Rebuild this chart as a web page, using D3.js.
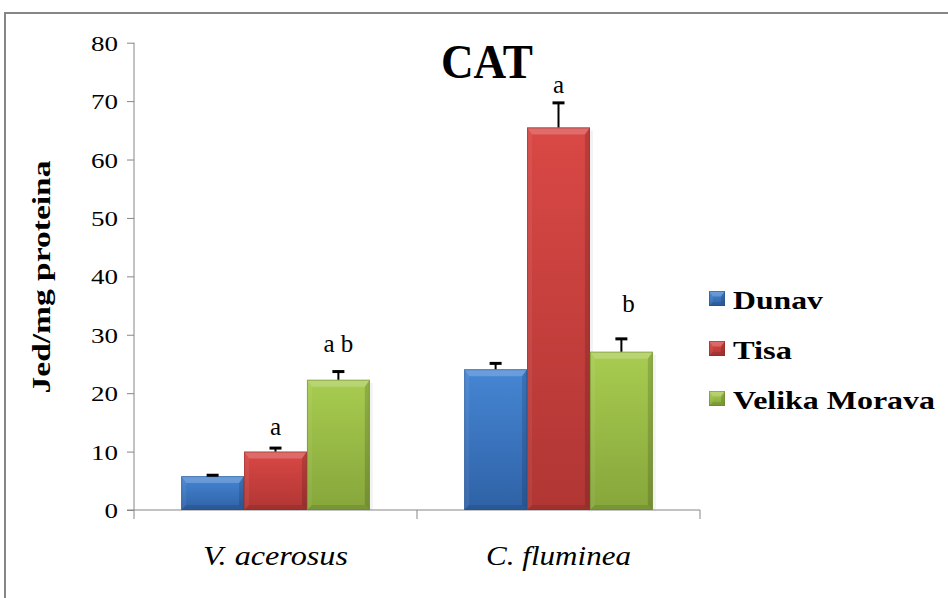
<!DOCTYPE html>
<html>
<head>
<meta charset="utf-8">
<script src="https://cdn.jsdelivr.net/npm/d3@7"></script>
<style>
  body { margin: 0; background: #fff; }
  text { font-family: "Liberation Serif", "Times New Roman", serif; }
</style>
</head>
<body>
<div class="chart"></div>
<script>
var svgWidth = 948;
var svgHeight = 598;

// data
var species = ["V. acerosus", "C. fluminea"];
var rivers = ["Dunav", "Tisa", "Velika Morava"];
var dunav = [5.8, 24.1];
var tisa = [10.0, 65.5];
var morava = [22.3, 27.1];
var dunavErr = [0.15, 1.0];
var tisaErr = [0.6, 4.2];
var moravaErr = [1.4, 2.2];
var letters = [["", "a", "a b"], ["", "a", "b"]];
// height (in axis units) of the baseline of each letter
var letterAt = [[0, 12.8, 27.0], [0, 71.4, 33.9]];
var yTicks = [0, 10, 20, 30, 40, 50, 60, 70, 80];

var colors = {
  "Dunav": ["#4686d4", "#2f62a6", "#24508a"],
  "Tisa": ["#d94845", "#b03634", "#8c2a28"],
  "Velika Morava": ["#a8cc50", "#86a63b", "#6a842c"]
};

var margin = { top: 42.7, right: 248, bottom: 88, left: 134 };
var width = 700 - margin.left;
var height = 510 - margin.top;

var svg = d3.select(".chart")
  .append("svg")
  .attr("width", svgWidth)
  .attr("height", svgHeight);

// outer frame
svg.append("rect")
  .attr("x", 5).attr("y", 13)
  .attr("width", 960).attr("height", 620)
  .attr("fill", "none")
  .attr("stroke", "#868686")
  .attr("stroke-width", 2);

var defs = svg.append("defs");
rivers.forEach(function (r, i) {
  var g = defs.append("linearGradient")
    .attr("id", "grad" + i)
    .attr("x1", 0).attr("y1", 0).attr("x2", 0).attr("y2", 1);
  g.append("stop").attr("offset", "0%").attr("stop-color", colors[r][0]);
  g.append("stop").attr("offset", "100%").attr("stop-color", colors[r][1]);
});

var chartGroup = svg.append("g")
  .attr("transform", `translate(${margin.left}, ${margin.top})`);

var x0 = d3.scaleBand()
  .domain(species)
  .range([0, width])
  .paddingInner(0)
  .paddingOuter(0);

var x1 = d3.scaleBand()
  .domain(rivers)
  .range([0, x0.bandwidth()])
  .paddingInner(0)
  .paddingOuter(0.75);

var y = d3.scaleLinear()
  .domain([0, 80])
  .range([height, 0]);

// axes
var leftAxis = d3.axisLeft(y).tickValues(yTicks).tickSize(7).tickPadding(9);
var yAxis = chartGroup.append("g").call(leftAxis);
yAxis.select(".domain").attr("stroke", "#868686").attr("d", `M0,0V${height}`);
yAxis.selectAll(".tick line").attr("stroke", "#868686");
yAxis.selectAll(".tick text")
  .attr("fill", "#000")
  .style("font-size", "22px")
  .attr("dy", "0.34em")
  .attr("textLength", d => String(d).length * 13.5)
  .attr("lengthAdjust", "spacingAndGlyphs");

var bottomAxis = d3.axisBottom(x0).tickSize(0).tickFormat("");
var xAxis = chartGroup.append("g")
  .attr("transform", `translate(0, ${height})`)
  .call(bottomAxis);
xAxis.select(".domain").attr("stroke", "#868686").attr("d", `M-7,0H${width}`);
xAxis.selectAll(".tick").remove();
// category separators ticks
[0, x0.bandwidth(), width].forEach(function (t) {
  xAxis.append("line")
    .attr("x1", t).attr("x2", t)
    .attr("y1", 0).attr("y2", 9)
    .attr("stroke", "#868686");
});

// category labels
chartGroup.selectAll(".cat")
  .data(species)
  .enter()
  .append("text")
  .attr("class", "cat")
  .attr("x", d => x0(d) + x0.bandwidth() / 2)
  .attr("y", height + 55)
  .attr("text-anchor", "middle")
  .style("font-size", "27px")
  .style("font-style", "italic")
  .attr("textLength", 145)
  .attr("lengthAdjust", "spacingAndGlyphs")
  .text(d => d);

// rows
var rows = species.map(function (s, i) {
  return [
    { sp: s, river: "Dunav", idx: 0, v: dunav[i], e: dunavErr[i], lab: letters[i][0], ly: letterAt[i][0] },
    { sp: s, river: "Tisa", idx: 1, v: tisa[i], e: tisaErr[i], lab: letters[i][1], ly: letterAt[i][1] },
    { sp: s, river: "Velika Morava", idx: 2, v: morava[i], e: moravaErr[i], lab: letters[i][2], ly: letterAt[i][2] }
  ];
});
var data = [].concat.apply([], rows);

function bevelBar(g, bx, by, bw, bh, river, idx, b) {
  var c = colors[river];
  g.append("rect")
    .attr("x", bx).attr("y", by).attr("width", bw).attr("height", bh)
    .attr("fill", `url(#grad${idx})`);
  var bt = Math.min(b * 1.4, bh / 2, bw / 2);
  b = Math.min(b, bh / 2, bw / 2);
  // top bevel
  g.append("path")
    .attr("d", `M${bx},${by}H${bx + bw}L${bx + bw - b},${by + bt}H${bx + b}Z`)
    .attr("fill", "#fff").attr("opacity", 0.2);
  // left bevel
  g.append("path")
    .attr("d", `M${bx},${by}L${bx + b},${by + bt}V${by + bh - b}L${bx},${by + bh}Z`)
    .attr("fill", "#fff").attr("opacity", 0.06);
  // right bevel
  g.append("path")
    .attr("d", `M${bx + bw},${by}L${bx + bw - b},${by + bt}V${by + bh - b}L${bx + bw},${by + bh}Z`)
    .attr("fill", "#000").attr("opacity", 0.14);
  // bottom bevel
  g.append("path")
    .attr("d", `M${bx},${by + bh}L${bx + b},${by + bh - b}H${bx + bw - b}L${bx + bw},${by + bh}Z`)
    .attr("fill", "#000").attr("opacity", 0.1);
  g.append("rect")
    .attr("x", bx + 0.5).attr("y", by + 0.5).attr("width", bw - 1).attr("height", bh - 1)
    .attr("fill", "none").attr("stroke", c[2]).attr("stroke-opacity", 0.5);
}

// bars
data.forEach(function (d) {
  var g = chartGroup.append("g");
  var bx = x0(d.sp) + x1(d.river);
  var bw = x1.bandwidth();
  // soft shadow to the right
  g.append("rect")
    .attr("x", bx + bw).attr("y", y(d.v) + 3)
    .attr("width", 3).attr("height", height - y(d.v) - 3)
    .attr("fill", "#000").attr("opacity", 0.05);
  bevelBar(g, bx, y(d.v), bw, height - y(d.v), d.river, d.idx, 5);
});

// error bars
var errGroup = chartGroup.selectAll(".err")
  .data(data)
  .enter()
  .append("g")
  .attr("class", "err");
errGroup.append("line")
  .attr("x1", d => x0(d.sp) + x1(d.river) + x1.bandwidth() / 2)
  .attr("x2", d => x0(d.sp) + x1(d.river) + x1.bandwidth() / 2)
  .attr("y1", d => y(d.v))
  .attr("y2", d => y(d.v + d.e))
  .attr("stroke", "#000")
  .attr("stroke-width", 2);
errGroup.append("line")
  .attr("x1", d => x0(d.sp) + x1(d.river) + x1.bandwidth() / 2 - 6)
  .attr("x2", d => x0(d.sp) + x1(d.river) + x1.bandwidth() / 2 + 6)
  .attr("y1", d => y(d.v + d.e))
  .attr("y2", d => y(d.v + d.e))
  .attr("stroke", "#000")
  .attr("stroke-width", 3);

// significance letters
chartGroup.selectAll(".lab")
  .data(data.filter(d => d.lab !== ""))
  .enter()
  .append("text")
  .attr("class", "lab")
  .attr("x", d => x0(d.sp) + x1(d.river) + x1.bandwidth() / 2 + (d.lab === "b" ? 7 : 0))
  .attr("y", d => y(d.ly))
  .attr("text-anchor", "middle")
  .style("font-size", "25px")
  .text(d => d.lab);

// title
svg.append("text")
  .attr("x", 487)
  .attr("y", 78)
  .attr("text-anchor", "middle")
  .style("font-size", "49px")
  .style("font-weight", "bold")
  .attr("textLength", 92)
  .attr("lengthAdjust", "spacingAndGlyphs")
  .text("CAT");

// y axis title
svg.append("text")
  .attr("transform", "translate(50, 277) rotate(-90)")
  .attr("text-anchor", "middle")
  .style("font-size", "25px")
  .style("font-weight", "bold")
  .attr("textLength", 233)
  .attr("lengthAdjust", "spacingAndGlyphs")
  .text("Jed/mg proteina");

// legend
var legendWidths = [90, 59, 202];
var legend = svg.append("g").attr("transform", "translate(709, 291)");
rivers.forEach(function (r, i) {
  var lg = legend.append("g").attr("transform", `translate(0, ${i * 50})`);
  bevelBar(lg, 0, 0, 16, 15, r, i, 4);
  lg.append("text")
    .attr("x", 24)
    .attr("y", 18)
    .style("font-size", "26px")
    .style("font-weight", "bold")
    .attr("textLength", legendWidths[i])
    .attr("lengthAdjust", "spacingAndGlyphs")
    .text(r);
});
</script>
</body>
</html>
